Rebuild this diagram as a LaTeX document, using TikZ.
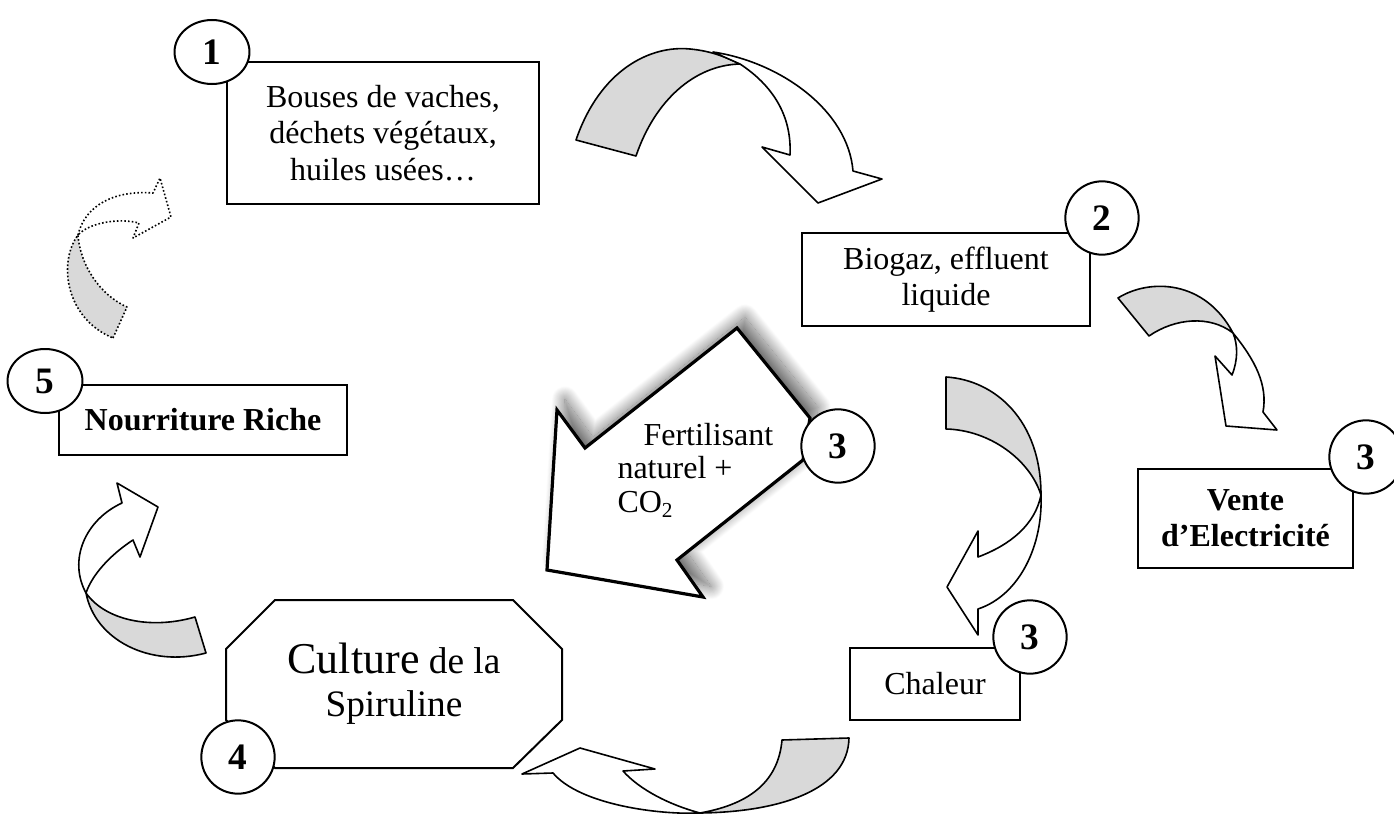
\documentclass[tikz,border=0pt]{standalone}
\usepackage{fontspec}
\setmainfont{Liberation Serif}
\usepackage{tikz}
\usetikzlibrary{positioning, shadows.blur, shapes.geometric}

\definecolor{ribbongray}{RGB}{217,217,217}
\tikzset{
  box/.style={draw, rectangle, line width=0.75pt, fill=white, text centered, align=center, inner sep=0pt, font=\fontsize{12}{13.6}\selectfont},
  num/.style={draw, ellipse, line width=0.75pt, fill=white, inner sep=0pt, minimum width=27.5pt, minimum height=27.5pt, font=\fontsize{14}{14}\selectfont\bfseries},
  flatnum/.style={num, minimum width=28.1pt, minimum height=24pt},
  back/.style={draw, line width=0.6pt, fill=ribbongray, line join=round},
  front/.style={draw, line width=0.6pt, fill=white, line join=round},
  dots/.style={dash pattern=on 0.6pt off 0.8pt}
}

\begin{document}
\begin{tikzpicture}[x=0.375pt, y=-0.375pt]
\useasboundingbox (0,0) rectangle (1394,814);

\node[box, minimum width=117pt, minimum height=53.25pt] (bouses) at (383,133) {Bouses de vaches,\\déchets végétaux,\\huiles usées…};
\node[box, minimum width=108pt, minimum height=34.9pt] (biogaz) at (946,279.5) {Biogaz, effluent\\liquide};
\node[box, minimum width=80.6pt, minimum height=37.1pt, font=\fontsize{12}{13.6}\selectfont\bfseries] (vente) at (1245.5,518.5) {Vente\\d’Electricité};
\node[box, minimum width=63.75pt, minimum height=27pt] (chaleur) at (935,684) {Chaleur};
\node[box, minimum width=108pt, minimum height=26.25pt, font=\fontsize{12}{13.6}\selectfont\bfseries] (nourriture) at (203,420) {Nourriture Riche};

\draw[line width=0.75pt, fill=white] (226,649) -- (275,600) -- (513,600) -- (562,649) -- (562,720) -- (513,768) -- (275,768) -- (226,720) -- cycle;
\node[align=center, font=\fontsize{14}{16.1}\selectfont] (spiruline) at (394,684) {{\fontsize{16.5}{16.5}\selectfont Culture} de la\\Spiruline};

% 1 -> 2
\draw[back] (576,140) .. controls (600,70) and (650,45) .. (690,49) .. controls (712,51) and (728,58) .. (740,64) .. controls (695,65) and (655,100) .. (636,156) -- cycle;
\draw[front] (713,52) .. controls (780,62) and (848,110) .. (853,171) -- (882,179) -- (818,203) -- (762,147) -- (790,155) .. controls (792,115) and (772,85) .. (740,64) -- cycle;
% 2 -> 3
\draw[back] (1118,298) .. controls (1150,278) and (1205,280) .. (1233,333) .. controls (1210,315) and (1175,318) .. (1149,336) -- cycle;
\draw[front] (1233,333) .. controls (1255,360) and (1268,385) .. (1263,412) -- (1277,430) -- (1226,426) -- (1215,356) -- (1232,375) .. controls (1238,360) and (1238,345) .. (1233,333) -- cycle;
\draw[back] (946,377) .. controls (995,380) and (1041,420) .. (1041,495) .. controls (1030,460) and (990,430) .. (946,429) -- cycle;
\draw[front] (1041,495) .. controls (1043,545) and (1020,595) .. (978,609) -- (978,635) -- (947,587) -- (978,531) -- (978,557) .. controls (1010,545) and (1035,525) .. (1041,495) -- cycle;
% 3 -> 4
\draw[back] (782,740) -- (849,738) .. controls (848,790) and (780,812) .. (700,813) .. controls (745,805) and (778,785) .. (782,740) -- cycle;
\draw[front] (700,813) .. controls (660,815) and (580,805) .. (553,773) -- (522,774) -- (580,748) -- (655,769) -- (623,771) .. controls (640,790) and (670,805) .. (700,813) -- cycle;
% 4 -> 5
\draw[back] (195,617) -- (206,653) .. controls (150,668) and (95,640) .. (86,593) .. controls (105,620) and (150,630) .. (195,617) -- cycle;
\draw[front] (86,593) .. controls (68,560) and (85,520) .. (122,503) -- (117,483) -- (158,507) -- (140,557) -- (133,540) .. controls (110,555) and (92,575) .. (86,593) -- cycle;
% 5 -> 1
\draw[back, dots] (113,338) -- (127,307) .. controls (100,295) and (80,265) .. (78,235) .. controls (58,262) and (65,318) .. (113,338) -- cycle;
\draw[front, dots] (78,235) .. controls (85,205) and (115,190) .. (153,193) -- (160,178) -- (171,217) -- (133,238) -- (139,223) .. controls (120,218) and (90,222) .. (78,235) -- cycle;

\draw[line width=1.2pt, fill=white, blur shadow={shadow xshift=3pt, shadow yshift=4pt, shadow blur radius=5pt, shadow blur steps=30, shadow opacity=60}] (737,328) -- (810,418) -- (803,460) -- (677,560) -- (703,597) -- (547,570) -- (557,410) -- (585,448) -- cycle;
\node[align=left, anchor=west, inner sep=0pt, font=\fontsize{12}{12.6}\selectfont] (fertilisant) at (617,470) {\hspace*{9.75pt}Fertilisant\\naturel +\\CO\textsubscript{2}};

\node[flatnum] (n1) at (212,52) {1};
\node[num] (n2) at (1102,218) {2};
\node[num] (n3) at (1366,457) {3};
\node[num] (n3a) at (838,446) {3};
\node[num] (n3c) at (1030,637) {3};
\node[num] (n4) at (238,757) {4};
\node[flatnum] (n5) at (45,381) {5};
\end{tikzpicture}
\end{document}
